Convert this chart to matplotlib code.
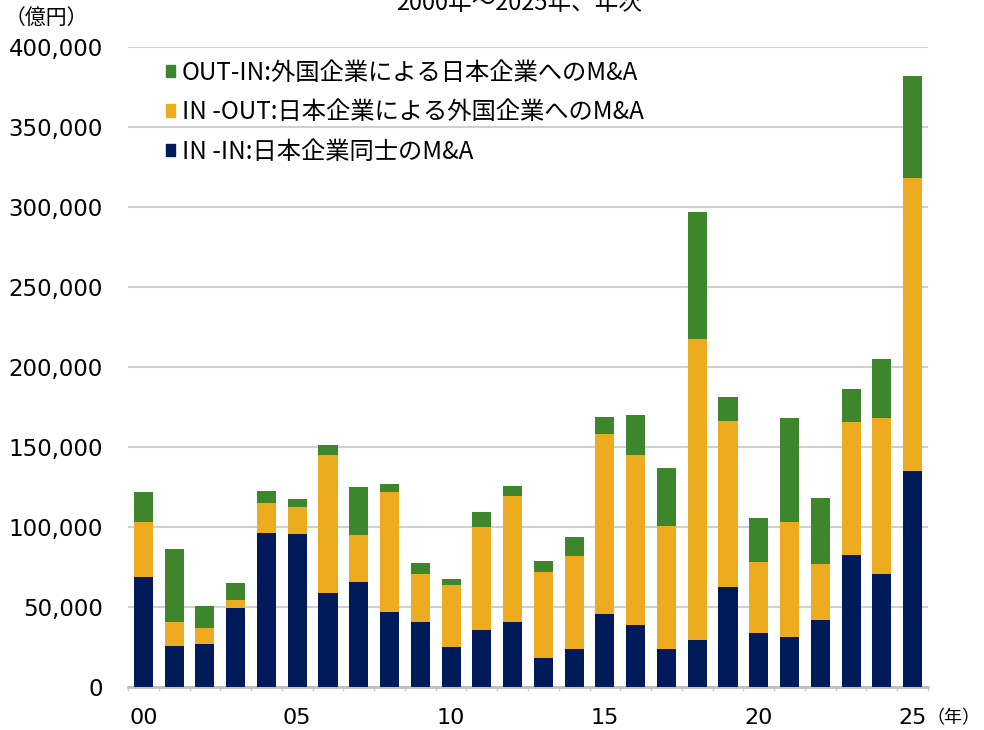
import numpy as np
import matplotlib
matplotlib.use('Agg')
import matplotlib.pyplot as plt
from matplotlib.patches import Patch
from matplotlib.ticker import FuncFormatter, MultipleLocator

# 2000-2025, annual (100 million yen)
years = list(range(2000, 2026))
in_in = [69, 26, 27, 49.5, 96.5, 95.5, 59, 66, 47, 41, 25, 35.5, 41, 18,
         23.7, 45.8, 38.7, 23.7, 29.3, 62.8, 34.1, 31.4, 41.8, 82.6, 70.9, 135]
in_out = [34.4, 15, 9.8, 5.2, 18.7, 17, 86, 29, 75.3, 29.7, 39.1, 64.8, 78.8, 54.2,
          58.2, 112.7, 106.3, 77, 188.3, 103.6, 44.1, 72, 35, 83.2, 97.4, 183]
out_in = [18.7, 45.3, 14.1, 10.4, 7.7, 5.2, 6.4, 30.4, 4.4, 7.1, 3.7, 9.5, 6.2, 6.6,
          11.9, 10.4, 25.2, 36.2, 79.6, 14.8, 27.7, 64.6, 41.6, 20.6, 36.8, 64]
in_in = np.array(in_in) * 1000
in_out = np.array(in_out) * 1000
out_in = np.array(out_in) * 1000

xtick_pos = [0, 5, 10, 15, 20, 25]
xtick_labels = ['00', '05', '10', '15', '20', '25']

labels = ['OUT-IN:外国企業による日本企業へのM&A',
          'IN -OUT:日本企業による外国企業へのM&A',
          'IN -IN:日本企業同士のM&A']
c_navy = '#001b5a'
c_yellow = '#edab20'
c_green = '#3e862c'

jp = ['Noto Sans CJK JP', 'DejaVu Sans']

fig = plt.figure(figsize=(9.84, 7.30), dpi=100)
ax = fig.add_axes([0.1301, 0.0585, 0.8130, 0.8771])

x = np.arange(len(years))
w = 0.62
ax.bar(x, in_in, w, color=c_navy, zorder=3)
ax.bar(x, in_out, w, bottom=in_in, color=c_yellow, zorder=3)
ax.bar(x, out_in, w, bottom=in_in + in_out, color=c_green, zorder=3)

ax.set_xlim(-0.5, 25.5)
ax.set_ylim(0, 400000)
ax.yaxis.set_major_locator(MultipleLocator(50000))
ax.yaxis.set_major_formatter(FuncFormatter(lambda v, p: f'{int(v):,}'))
ax.grid(axis='y', color='#d0d0d0', linewidth=1.5, zorder=0)
ax.set_axisbelow(True)

ax.set_xticks(xtick_pos)
ax.set_xticklabels(xtick_labels)
ax.set_xticks(np.arange(-0.5, 25.6, 1), minor=True)
ax.tick_params(axis='x', which='major', length=0, pad=15, labelsize=16)
ax.tick_params(axis='x', which='minor', length=3, color='#d0d0d0', width=1)
ax.tick_params(axis='y', length=0, pad=18, labelsize=16.5)

for s in ['top', 'right', 'left']:
    ax.spines[s].set_visible(False)
ax.spines['bottom'].set_color('#c0c0c0')
ax.spines['bottom'].set_linewidth(2)

handles = [Patch(color=c_green), Patch(color=c_yellow), Patch(color=c_navy)]
ax.legend(handles, labels, loc='upper left', bbox_to_anchor=(0.035, 0.995),
          frameon=False, prop={'family': jp, 'size': 17.5},
          handlelength=0.4, handleheight=0.4, handletextpad=0.25,
          labelspacing=0.55, borderaxespad=0)

fig.text(0.528, 0.986, '2000年～2025年、年次', ha='center', va='baseline',
         family=jp, fontsize=17)
fig.text(0.005, 0.975, '（億円）', ha='left', va='center', family=jp, fontsize=15)
fig.text(0.942, 0.0165, '（年）', ha='left', va='center', family=jp, fontsize=13)

plt.savefig('out.png', dpi=100)
plt.close()
